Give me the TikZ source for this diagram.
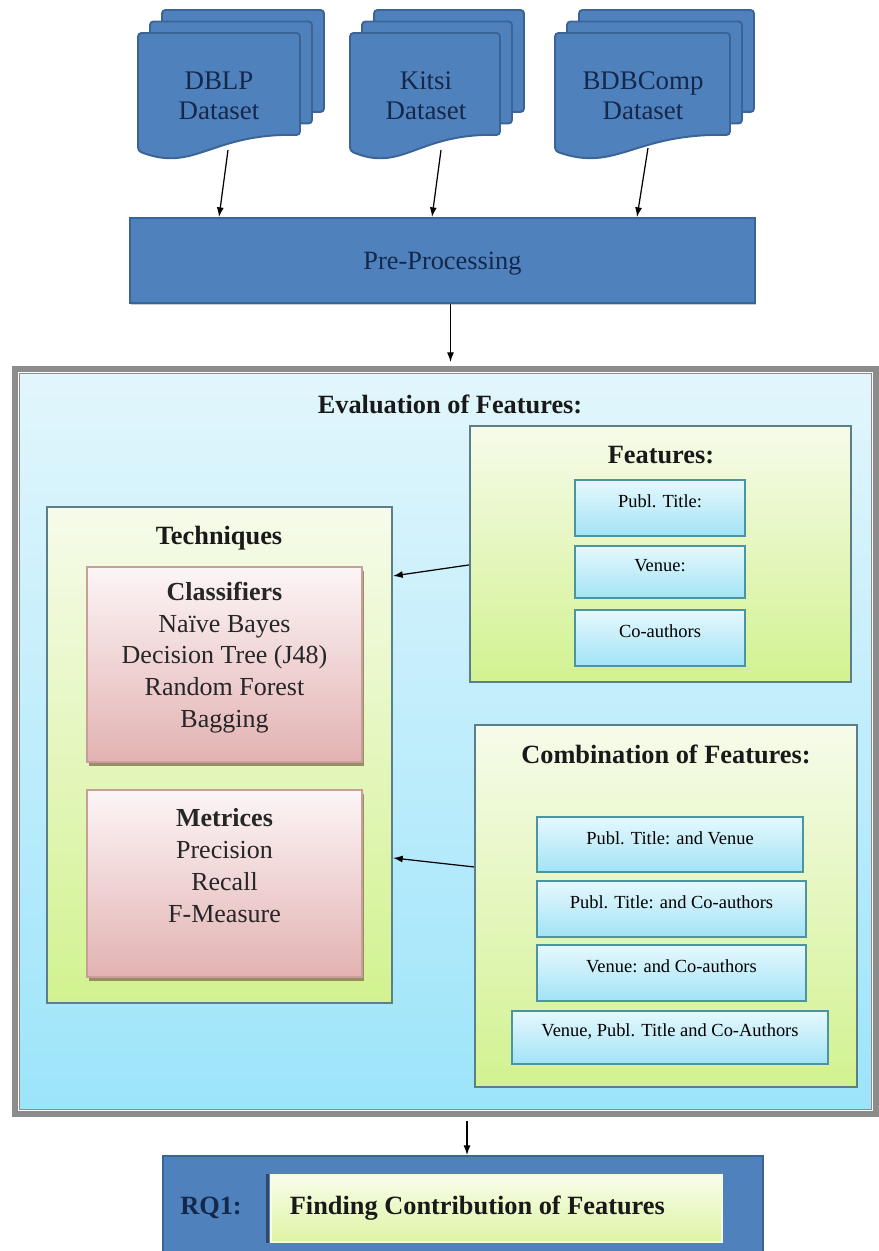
\documentclass[tikz,border=0pt]{standalone}
\usepackage{fontspec}
\setmainfont{Liberation Serif}
\usetikzlibrary{calc,fit,shadows,arrows.meta}

\definecolor{docblue}{HTML}{4F81BD}
\definecolor{docedge}{HTML}{3A6496}
\definecolor{navy}{HTML}{14284B}
\definecolor{framegray}{HTML}{8C8C8C}
\definecolor{skytop}{HTML}{E2F6FC}
\definecolor{skybot}{HTML}{9CE4FA}
\definecolor{limetop}{HTML}{F6FBEA}
\definecolor{limebot}{HTML}{D2F290}
\definecolor{paneledge}{HTML}{5C7E88}
\definecolor{celltop}{HTML}{E6F8FD}
\definecolor{cellbot}{HTML}{A2E3F6}
\definecolor{celledge}{HTML}{4B94A2}
\definecolor{rosetop}{HTML}{FCF5F6}
\definecolor{rosebot}{HTML}{E3B2B2}
\definecolor{roseedge}{HTML}{C6A098}
\definecolor{roseshade}{HTML}{8C7B55}
\definecolor{rqtop}{HTML}{F9FDEB}
\definecolor{rqbot}{HTML}{DDF4A2}

\tikzset{
  docsheet/.style={fill=docblue, draw=docedge, line width=1.1pt, rounded corners=2pt},
  doclabel/.style={align=center, text=navy, font=\fontsize{15.3}{17}\selectfont},
  bluebox/.style={fill=docblue, draw=docedge, line width=1.1pt, inner sep=0pt,
    drop shadow={shadow xshift=0.6pt, shadow yshift=-0.9pt, opacity=0.4}},
  frame/.style={draw=framegray, line width=4.5pt, top color=skytop, bottom color=skybot, inner sep=0pt},
  panel/.style={draw=paneledge, line width=1.2pt, top color=limetop, bottom color=limebot, inner sep=0pt},
  cell/.style={draw=celledge, line width=0.8pt, top color=celltop, bottom color=cellbot, inner sep=0pt,
    font=\fontsize{10.5}{12}\selectfont, text depth=9pt},
  rose/.style={draw=roseedge, line width=0.8pt, top color=rosetop, bottom color=rosebot, inner sep=0pt,
    drop shadow={shadow xshift=0.9pt, shadow yshift=-2.4pt, fill=roseshade, opacity=0.85}},
  list/.style={align=center, text=black!85, font=\fontsize{14.8}{18.1}\selectfont},
  title/.style={inner sep=0pt, text=black!90, font=\fontsize{15}{18}\selectfont\bfseries},
  arr/.style={-{Latex[length=5.5pt,width=4pt]}, line width=0.7pt}
}

% one sheet of a stacked document: left, top, right
\newcommand\datasheet[3]{%
  \draw[docsheet] (#1,#2) -- (#3,#2) -- (#3,{#2+102})
    .. controls ({#3-0.55*(#3-#1)},{#2+100}) and ({#1+0.35*(#3-#1)},{#2+140}) .. (#1,{#2+118}) -- cycle;}

\begin{document}
\begin{tikzpicture}[x=0.02cm, y=-0.02cm]
  \useasboundingbox (0,0) rectangle (879,1251);

  % datasets
  \datasheet{162}{10}{324} \datasheet{150}{21.5}{312} \datasheet{138}{33}{300}
  \node[doclabel] (dblp) at (219,96) {DBLP\\Dataset};
  \coordinate (dblp-b) at (228,150);

  \datasheet{374}{10}{524} \datasheet{362}{21.5}{512} \datasheet{350}{33}{500}
  \node[doclabel] (kitsi) at (426,96) {Kitsi\\Dataset};
  \coordinate (kitsi-b) at (441,150);

  \datasheet{579}{10}{754} \datasheet{567}{21.5}{742} \datasheet{555}{33}{730}
  \node[doclabel] (bdb) at (643,96) {BDBComp\\Dataset};
  \coordinate (bdb-b) at (648,148);

  \node[bluebox, fit={(130,218) (755,303)}] (pre) {};
  \node[text=navy, font=\fontsize{15}{18}\selectfont] (pretext) at ($(pre.center)+(0,3)$) {Pre-Processing};
  \draw[arr] (dblp-b) -- ($(pre.north west)+(90,0)$);
  \draw[arr] (kitsi-b) -- ($(pre.north west)+(303,0)$);
  \draw[arr] (bdb-b) -- ($(pre.north west)+(508,0)$);

  % evaluation
  \node[frame, fit={(16,370) (875,1113)}] (eval) {};
  \draw[white, line width=0.9pt] ($(eval.north west)+(6.5,6.5)$) rectangle ($(eval.south east)+(-6.5,-6.5)$);
  \coordinate (p1) at ($(pre.south)+(8,0)$);
  \draw[arr, shorten >=2.3pt] (p1) -- (p1 |- eval.north);
  \node[title] (evaltitle) at (450,404) {Evaluation of Features:};

  \node[panel, fit={(470,426) (851,682)}] (feat) {};
  \node[title] (feattitle) at (661,455) {Features:};
  \node[cell, fit={(575,480) (745,536)}] (fpub) {Publ. Title:};
  \node[cell, fit={(575,546) (745,598)}] (fven) {Venue:};
  \node[cell, fit={(575,610) (745,666)}] (fco) {Co-authors};

  \node[panel, fit={(47,507) (392,1003)}] (tech) {};
  \node[title] (techtitle) at (219,538) {Techniques};
  \node[rose, fit={(87,567) (362,762)}] (clf) {};
  \node[list] (clflist) at ($(clf.center)+(0,-7)$)
    {\textbf{Classifiers}\\Naïve Bayes\\Decision Tree (J48)\\Random Forest\\Bagging};
  \node[rose, fit={(87,790) (362,977)}] (met) {};
  \node[list] (metlist) at ($(met.center)+(0,-18)$)
    {\textbf{Metrices}\\Precision\\Recall\\F-Measure};

  \node[panel, fit={(475,725) (857,1087)}] (comb) {};
  \node[title] (combtitle) at (666,754) {Combination of Features:};
  \node[cell, fit={(537,817) (803,872)}] (cpv) {Publ. Title: and Venue};
  \node[cell, fit={(537,881) (806,937)}] (cpc) {Publ. Title: and Co-authors};
  \node[cell, fit={(537,945) (806,1001)}] (cvc) {Venue: and Co-authors};
  \node[cell, fit={(512,1011) (828,1064)}] (call) {Venue, Publ. Title and Co-Authors};

  \draw[arr] ($(feat.north west)+(0,140)$) -- ($(tech.north east)+(0,70)$);
  \draw[arr] ($(comb.north west)+(0,143)$) -- ($(tech.north east)+(0,352)$);

  % result
  \node[bluebox, fit={(163,1156) (763,1262)}] (rq) {};
  \coordinate (p2) at ($(rq.north)+(4,0)$);
  \draw[arr, shorten <=2.3pt] (p2 |- eval.south) -- (p2);
  \node[draw=white!70!rqbot, line width=0.6pt, top color=rqtop, bottom color=rqbot, inner sep=0pt,
    fit={(271,1175) (722,1242)}] (rqcell) {};
  \draw[navy!85, line width=1.3pt] ($(rqcell.north west)+(-3,0)$) -- ($(rqcell.south west)+(-3,0)$);
  \node[title, text=navy] (rqname) at (211,1208) {RQ1:};
  \node[title, anchor=west] (rqtext) at ($(rqcell.west)+(19,0)$) {Finding Contribution of Features};
\end{tikzpicture}
\end{document}
